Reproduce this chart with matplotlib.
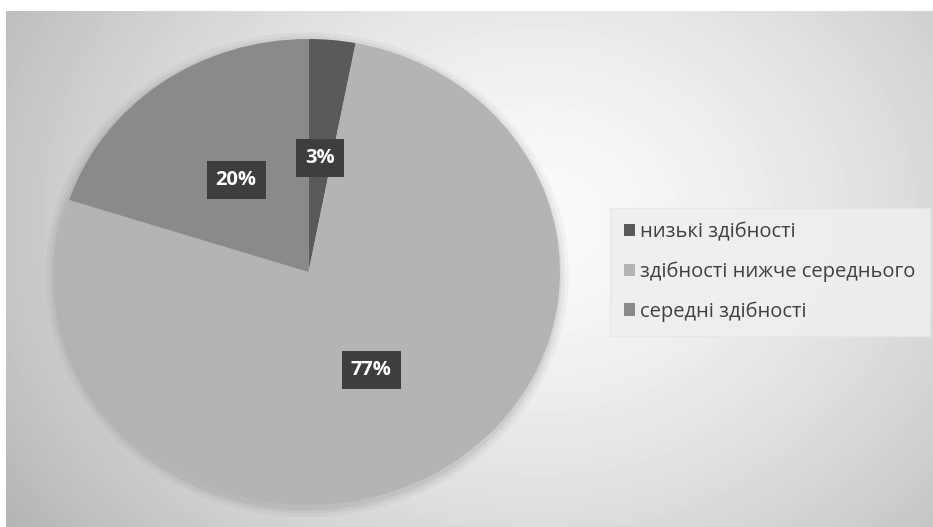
import numpy as np
import matplotlib.pyplot as plt
from matplotlib.patches import Ellipse

# data
labels = ['низькі здібності', 'здібності нижче середнього', 'середні здібності']
values = [3, 77, 20]
colors = ['#5a5a5a', '#b4b4b4', '#8a8a8a']

W, H = 933, 527
fig = plt.figure(figsize=(W / 100, H / 100), dpi=100)
fig.patch.set_facecolor('white')
plt.rcParams['font.family'] = ['Open Sans', 'DejaVu Sans']

# background panel with radial gradient (chart area starts a little below the top)
bg = fig.add_axes([6 / W, 0, 1 - 6 / W, (H - 11) / H])
yy, xx = np.mgrid[11:H, 6:W]
r = np.sqrt(((xx - 540) / 520.0) ** 2 + ((yy - 220) / 430.0) ** 2)
shade = np.clip(250 - 50 * r ** 1.5, 0, 255) / 255.0
bg.imshow(shade, cmap='gray', vmin=0, vmax=1, aspect='auto',
          extent=[0, 1, 0, 1], interpolation='bilinear')
bg.set_axis_off()

# pie axes (pie appears slightly stretched horizontally in the reference)
px0, px1, py0, py1 = 57, 560, 39, 505
ax = fig.add_axes([px0 / W, (H - py1) / H, (px1 - px0) / W, (py1 - py0) / H])
ax.patch.set_alpha(0)

# soft shadow around the pie
for k, a in zip([1.04, 1.025, 1.012], [0.03, 0.04, 0.05]):
    ax.add_patch(Ellipse((-0.005, -0.012), 2 * k, 2 * k, color='black',
                         alpha=a, lw=0, clip_on=False))

wedges, texts, autotexts = ax.pie(
    values, colors=colors, startangle=90, counterclock=False,
    autopct='%1.0f%%', pctdistance=0.49,
    wedgeprops=dict(linewidth=0),
    textprops=dict(color='white', fontsize=14.5, fontweight='bold'))

for t in autotexts:
    t.set_bbox(dict(boxstyle='square,pad=0.45', facecolor='#3e3e3e',
                    edgecolor='none'))

ax.set_aspect('auto')
ax.set_xlim(-1, 1)
ax.set_ylim(-1, 1)
ax.set_axis_off()

leg = fig.legend(wedges, labels, loc='center left',
                 bbox_to_anchor=(610 / W, 1 - 272 / H),
                 frameon=True, fancybox=False, fontsize=14.5,
                 handlelength=0.55, handleheight=0.55, handletextpad=0.25,
                 labelspacing=0.95, borderpad=0.7, borderaxespad=0)
leg.get_frame().set_facecolor('#efefef')
leg.get_frame().set_edgecolor('#e6e6e6')
leg.get_frame().set_alpha(0.9)
for t in leg.get_texts():
    t.set_color('#404040')

fig.savefig('out.png', dpi=100)
